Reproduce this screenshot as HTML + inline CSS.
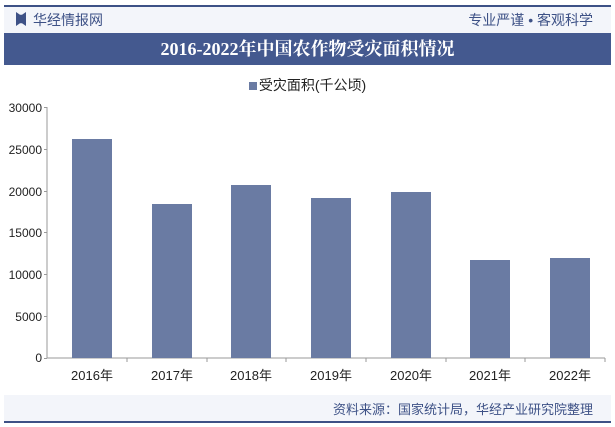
<!DOCTYPE html><html><head><meta charset="utf-8"><style>
body{margin:0;width:615px;height:427px;background:#fff;font-family:"Liberation Sans","Noto Sans CJK SC",sans-serif;position:relative;overflow:hidden}
.a{position:absolute}
</style></head><body>
<div class="a" style="left:4px;top:5px;width:607px;height:2px;background:#3d5186"></div>
<div class="a" style="left:4px;top:7px;width:607px;height:26px;background:#f3f5fa"></div>
<div class="a" style="left:16px;top:12px;width:10px;height:14px;background:#3d5186;clip-path:polygon(0 0,40% 20%,60% 20%,100% 0,100% 100%,60% 80%,40% 80%,0 100%)"></div>
<div class="a" style="left:33px;top:10px;font-size:14px;color:#3d5186">华经情报网</div>
<div class="a" style="right:22px;top:10px;font-size:14px;color:#3d5186">专业严谨 • 客观科学</div>
<div class="a" style="left:4px;top:33px;width:607px;height:32px;background:#44598f;color:#fff;font-family:'Liberation Serif','Noto Serif CJK SC',serif;font-weight:bold;font-size:18px;text-align:center;line-height:32px">2016-2022年中国农作物受灾面积情况</div>
<div class="a" style="left:0;top:75px;width:615px;text-align:center;font-size:14px;color:#222"><span style="display:inline-block;width:8px;height:8px;background:#6a7ba3;margin-right:2px"></span>受灾面积(千公顷)</div>
<svg class="a" style="left:0;top:0" width="615" height="427">
<g font-size="12" fill="#222" text-anchor="end" font-family="Liberation Sans">
<text x="42" y="112">30000</text><text x="42" y="154">25000</text><text x="42" y="196">20000</text><text x="42" y="237">15000</text><text x="42" y="279">10000</text><text x="42" y="321">5000</text><text x="42" y="362">0</text>
</g>
<line x1="47" y1="107" x2="47" y2="358" stroke="#999"/>
<line x1="47" y1="358" x2="605" y2="358" stroke="#999"/>
<g stroke="#999"><line x1="44" y1="107.5" x2="47" y2="107.5"/><line x1="44" y1="149.5" x2="47" y2="149.5"/><line x1="44" y1="191.5" x2="47" y2="191.5"/><line x1="44" y1="232.5" x2="47" y2="232.5"/><line x1="44" y1="274.5" x2="47" y2="274.5"/><line x1="44" y1="316.5" x2="47" y2="316.5"/><line x1="44" y1="358.5" x2="47" y2="358.5"/>
<line x1="127" y1="358" x2="127" y2="362"/><line x1="207" y1="358" x2="207" y2="362"/><line x1="286" y1="358" x2="286" y2="362"/><line x1="366" y1="358" x2="366" y2="362"/><line x1="446" y1="358" x2="446" y2="362"/><line x1="525" y1="358" x2="525" y2="362"/><line x1="605" y1="358" x2="605" y2="362"/></g>
<g fill="#6a7ba3">
<rect x="72" y="139" width="40" height="219"/><rect x="152" y="204" width="40" height="154"/><rect x="231" y="185" width="40" height="173"/><rect x="311" y="198" width="40" height="160"/><rect x="391" y="192" width="40" height="166"/><rect x="470" y="260" width="40" height="98"/><rect x="550" y="258" width="40" height="100"/>
</g>
<g font-size="13" fill="#222" text-anchor="middle" font-family="Liberation Sans,Noto Sans CJK SC">
<text x="92" y="380">2016年</text><text x="172" y="380">2017年</text><text x="251" y="380">2018年</text><text x="331" y="380">2019年</text><text x="411" y="380">2020年</text><text x="490" y="380">2021年</text><text x="570" y="380">2022年</text>
</g>
</svg>
<div class="a" style="left:4px;top:395px;width:607px;height:26px;background:#f3f5fa"></div>
<div class="a" style="right:22px;top:399px;font-size:13px;color:#3d5186">资料来源：国家统计局，华经产业研究院整理</div>
<div class="a" style="left:4px;top:421px;width:607px;height:2px;background:#3d5186"></div>
</body></html>
